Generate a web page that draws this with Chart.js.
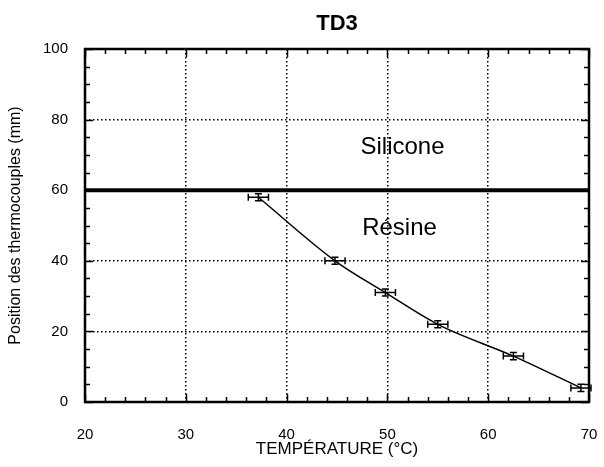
<!DOCTYPE html>
<html>
<head>
<meta charset="utf-8">
<script src="https://cdn.jsdelivr.net/npm/chart.js@4.4.1/dist/chart.umd.min.js"></script>
<style>
  html, body { margin: 0; padding: 0; background: #ffffff; overflow: hidden; }
  canvas { display: block; }
</style>
</head>
<body>
<canvas id="td3Chart" width="604" height="467"></canvas>
<script>
const temperatures = [37.2, 44.8, 49.8, 55.0, 62.5, 69.2];
const positions = [58, 40, 31, 22, 13, 4];
const temperatureErr = [1, 1, 1, 1, 1, 1];
const positionErr = [1, 1, 1, 1, 1, 1];

// silicone / resin interface
const interfaceX = [20, 70];
const interfaceY = [60, 60];

const xTicks = [20, 30, 40, 50, 60, 70];
const yTicks = [0, 20, 40, 60, 80, 100];

const FONT = "'Liberation Sans', Arial, sans-serif";

/**
 * Frame, inward minor ticks and region labels
 */
const framePlugin = {
  id: "frame",
  afterDatasetsDraw(chart) {
    const { ctx, chartArea: a, scales } = chart;
    const x = scales.x;
    const y = scales.y;
    ctx.save();
    ctx.strokeStyle = "#000";

    // ticks, all four sides
    ctx.lineWidth = 1.5;
    ctx.beginPath();
    for (let v = 20; v <= 70; v += 2) {
      const px = Math.round(x.getPixelForValue(v)) + 0.5;
      const len = v % 10 === 0 ? 8 : 5;
      ctx.moveTo(px, a.bottom);
      ctx.lineTo(px, a.bottom - len);
      ctx.moveTo(px, a.top);
      ctx.lineTo(px, a.top + len);
    }
    for (let v = 0; v <= 100; v += 5) {
      const py = Math.round(y.getPixelForValue(v)) + 0.5;
      const len = v % 20 === 0 ? 8 : 5;
      ctx.moveTo(a.left, py);
      ctx.lineTo(a.left + len, py);
      ctx.moveTo(a.right, py);
      ctx.lineTo(a.right - len, py);
    }
    ctx.stroke();

    // frame
    ctx.lineWidth = 2.5;
    ctx.strokeRect(a.left, a.top, a.right - a.left, a.bottom - a.top);

    // region labels
    ctx.fillStyle = "#000";
    ctx.font = "24px " + FONT;
    ctx.textAlign = "center";
    ctx.textBaseline = "middle";
    ctx.fillText("Silicone", x.getPixelForValue(51.5), y.getPixelForValue(72));
    ctx.fillText("Résine", x.getPixelForValue(51.2), y.getPixelForValue(49.3));
    ctx.restore();
  },
};

/**
 * Horizontal and vertical error bars
 */
const errorBarPlugin = {
  id: "errorBars",
  afterDatasetsDraw(chart) {
    const { ctx, scales } = chart;
    const x = scales.x;
    const y = scales.y;
    const cap = 3.5;
    ctx.save();
    ctx.strokeStyle = "#000";
    ctx.lineWidth = 1.5;
    ctx.beginPath();
    temperatures.forEach((t, i) => {
      const px = x.getPixelForValue(t);
      const py = y.getPixelForValue(positions[i]);
      const x0 = x.getPixelForValue(t - temperatureErr[i]);
      const x1 = x.getPixelForValue(t + temperatureErr[i]);
      const y0 = y.getPixelForValue(positions[i] - positionErr[i]);
      const y1 = y.getPixelForValue(positions[i] + positionErr[i]);
      ctx.moveTo(x0, py);
      ctx.lineTo(x1, py);
      ctx.moveTo(x0, py - cap);
      ctx.lineTo(x0, py + cap);
      ctx.moveTo(x1, py - cap);
      ctx.lineTo(x1, py + cap);
      ctx.moveTo(px, y0);
      ctx.lineTo(px, y1);
      ctx.moveTo(px - cap, y0);
      ctx.lineTo(px + cap, y0);
      ctx.moveTo(px - cap, y1);
      ctx.lineTo(px + cap, y1);
    });
    ctx.stroke();
    ctx.restore();
  },
};

const ctx = document.getElementById("td3Chart").getContext("2d");

new Chart(ctx, {
  type: "scatter",
  data: {
    datasets: [
      {
        label: "TD3",
        data: temperatures.map((t, i) => ({ x: t, y: positions[i] })),
        showLine: true,
        borderColor: "#000",
        borderWidth: 1.5,
        pointRadius: 0,
        cubicInterpolationMode: "monotone",
      },
      {
        label: "Interface",
        data: interfaceX.map((v, i) => ({ x: v, y: interfaceY[i] })),
        showLine: true,
        borderColor: "#000",
        borderWidth: 4,
        pointRadius: 0,
      },
    ],
  },
  options: {
    responsive: false,
    animation: false,
    layout: { padding: { left: 0, right: 15, top: 0, bottom: 0 } },
    scales: {
      x: {
        type: "linear",
        min: 20,
        max: 70,
        afterBuildTicks: (scale) => {
          scale.ticks = xTicks.map((v) => ({ value: v }));
        },
        afterFit: (scale) => {
          scale.height = 65;
          scale.paddingLeft = 0;
          scale.paddingRight = 0;
        },
        ticks: {
          color: "#000",
          padding: 24,
          font: { family: FONT, size: 15 },
        },
        grid: {
          drawTicks: false,
          lineWidth: 1.5,
          color: (c) => (c.tick && (c.tick.value === 20 || c.tick.value === 70) ? "rgba(0,0,0,0)" : "#000"),
        },
        border: { display: false, dash: [1.5, 2.5] },
        title: {
          display: true,
          text: "TEMPÉRATURE (°C)",
          color: "#000",
          font: { family: FONT, size: 17 },
          padding: { top: 0, bottom: 7 },
        },
      },
      y: {
        type: "linear",
        min: 0,
        max: 100,
        afterBuildTicks: (scale) => {
          scale.ticks = yTicks.map((v) => ({ value: v }));
        },
        afterFit: (scale) => {
          scale.width = 85;
          scale.paddingTop = 0;
          scale.paddingBottom = 0;
        },
        ticks: {
          color: "#000",
          padding: 17,
          font: { family: FONT, size: 15 },
        },
        grid: {
          drawTicks: false,
          lineWidth: 1.5,
          color: (c) => (c.tick && (c.tick.value === 0 || c.tick.value === 100) ? "rgba(0,0,0,0)" : "#000"),
        },
        border: { display: false, dash: [1.5, 2.5] },
        title: {
          display: true,
          text: "Position des thermocouples (mm)",
          color: "#000",
          font: { family: FONT, size: 16 },
          padding: { top: 6, bottom: 0 },
        },
      },
    },
    plugins: {
      legend: { display: false },
      tooltip: { enabled: false },
      title: {
        display: true,
        fullSize: false,
        text: "TD3",
        color: "#000",
        font: { family: FONT, size: 22, weight: "bold" },
        padding: { top: 11, bottom: 11.6 },
      },
    },
  },
  plugins: [errorBarPlugin, framePlugin],
});
</script>
</body>
</html>
